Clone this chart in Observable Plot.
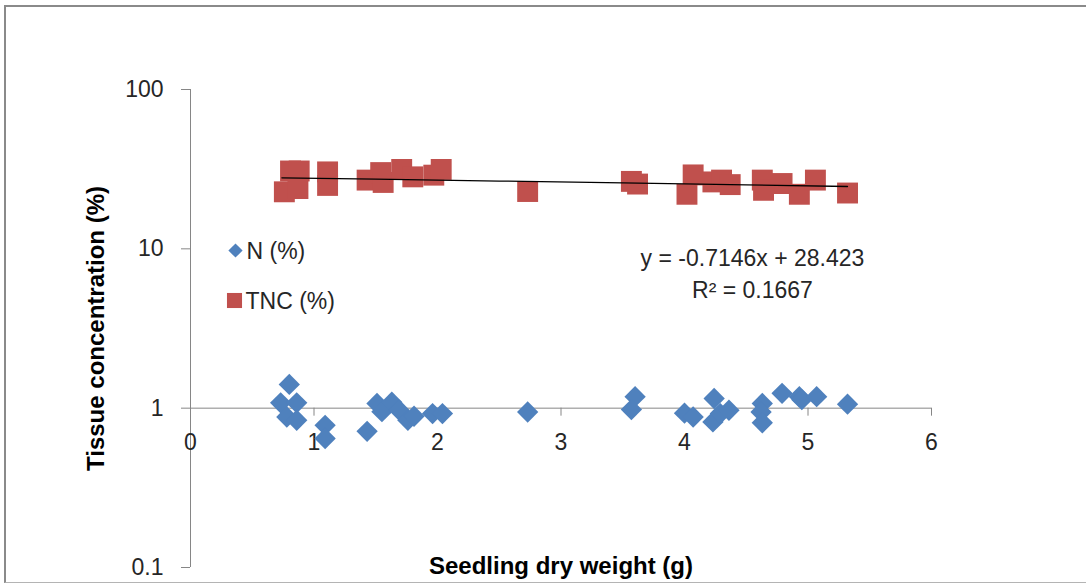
<!DOCTYPE html>
<html><head><meta charset="utf-8">
<script src="https://cdn.jsdelivr.net/npm/d3@7"></script>
<script src="https://cdn.jsdelivr.net/npm/@observablehq/plot@0.6"></script>
<style>
body{margin:0;background:#fff;}
#chart{position:relative;width:1086px;height:583px;overflow:hidden;background:#fff;}
#chart svg{position:absolute;left:0;top:0;display:block;}
#border{position:absolute;left:4px;top:5px;width:1200px;height:578px;border:2px solid #8a8a8a;border-bottom:1px solid #b4b4b4;box-sizing:border-box;pointer-events:none;z-index:2;}
</style></head><body><div id="chart"><div id="border"></div></div>
<script>
// TNC (%) series
const tncX = [0.81,0.88,0.76,0.87,1.11,1.11,1.43,1.54,1.56,1.71,1.80,1.97,2.03,2.73,3.57,3.62,4.02,4.07,4.23,4.30,4.37,4.63,4.64,4.79,4.93,5.06,5.32];
const tncY = [30.8,30.8,22.8,23.9,30.4,25.0,27.0,30.1,26.1,31.5,28.3,29.0,31.5,22.9,26.5,25.5,22.0,29.1,26.3,27.0,25.3,27.0,23.3,25.7,22.0,27.0,22.4];
// N (%) series
const nX = [0.80,0.73,0.86,0.78,0.86,1.09,1.09,1.43,1.51,1.55,1.63,1.69,1.76,1.81,1.96,2.04,2.73,3.60,3.57,4.00,4.07,4.24,4.23,4.29,4.36,4.63,4.62,4.63,4.79,4.93,4.95,5.07,5.32];
const nY = [1.41,1.08,1.08,0.88,0.84,0.78,0.645,0.716,1.07,0.95,1.09,0.97,0.84,0.89,0.925,0.925,0.946,1.18,0.98,0.93,0.88,1.15,0.82,0.925,0.97,1.07,0.946,0.81,1.24,1.18,1.13,1.18,1.06];
// axis ticks
const xTicks = [0,1,2,3,4,5,6];
const yTicks = [0.1,1,10,100];
// trend line (stated equation) and its x span
const trendSlope = -0.7146, trendIntercept = 28.423;
const trendXs = [0.74, 1.5, 2.5, 3.5, 4.5, 5.32];
const eqLabel = "y = -0.7146x + 28.423";
const r2Label = "R\u00B2 = 0.1667";
const seriesNames = ["N (%)", "TNC (%)"];
const xTitle = "Seedling dry weight (g)";
const yTitle = "Tissue concentration (%)";

const tnc = tncX.map((x,i)=>({x, y: tncY[i]}));
const nn = nX.map((x,i)=>({x, y: nY[i]}));
const trend = trendXs.map(x=>({x, y: trendSlope*x + trendIntercept}));

const blue = "#4F81BD", red = "#C0504D", axisGray = "#868686", txt = "#262626";
const font = "'Liberation Sans', Arial, sans-serif";

const chart = Plot.plot({
  width: 1086, height: 583,
  marginLeft: 190, marginRight: 155, marginTop: 89, marginBottom: 16,
  style: {fontFamily: font, background: "transparent"},
  x: {domain: [0, 6], axis: null},
  y: {type: "log", domain: [0.1, 100], axis: null},
  marks: [
    // y axis line and ticks
    Plot.ruleX([0], {y1: 0.1, y2: 100, stroke: axisGray, strokeWidth: 1}),
    Plot.ruleY(yTicks, {y: d=>d, x1: 0, x2: 0, insetLeft: -9, stroke: axisGray}),
    Plot.text(yTicks, {y: d=>d, x: 0, dx: -27, text: d=>String(d), textAnchor: "end", fontSize: 23, fill: txt}),
    // x axis at y = 1
    Plot.ruleY([1], {x1: 0, x2: 6, stroke: axisGray, strokeWidth: 1}),
    Plot.ruleX(xTicks.slice(1), {x: d=>d, y1: 1, y2: 1, insetBottom: -8, stroke: axisGray}),
    Plot.text(xTicks, {x: d=>d, y: 1, dy: 34, text: d=>String(d), fontSize: 23, fill: txt}),
    // data
    Plot.dot(tnc, {x: "x", y: "y", symbol: "square", r: 11.8, fill: red, stroke: "none"}),
    Plot.line(trend, {x: "x", y: "y", stroke: "#000", strokeWidth: 1.3}),
    Plot.dot(nn, {x: "x", y: "y", symbol: "diamond2", r: 9.6, fill: blue, stroke: "none"}),
    // legend
    Plot.dot([0], {frameAnchor: "top-left", dx: 45, dy: 161, symbol: "diamond2", r: 6.4, fill: blue, stroke: "none"}),
    Plot.text([seriesNames[0]], {frameAnchor: "top-left", dx: 56, dy: 162, text: d=>d, textAnchor: "start", lineAnchor: "middle", fontSize: 23, fill: txt}),
    Plot.dot([0], {frameAnchor: "top-left", dx: 44, dy: 211, symbol: "square", r: 8.5, fill: red, stroke: "none"}),
    Plot.text([seriesNames[1]], {frameAnchor: "top-left", dx: 55, dy: 212, text: d=>d, textAnchor: "start", lineAnchor: "middle", fontSize: 23, fill: txt}),
    // equation
    Plot.text([eqLabel], {frameAnchor: "top-left", dx: 562, dy: 169, text: d=>d, textAnchor: "middle", lineAnchor: "middle", fontSize: 23, fill: txt}),
    Plot.text([r2Label], {frameAnchor: "top-left", dx: 562, dy: 201, text: d=>d, textAnchor: "middle", lineAnchor: "middle", fontSize: 23, fill: txt}),
    // axis titles
    Plot.text([yTitle], {frameAnchor: "left", rotate: -90, dx: -94, dy: 0, text: d=>d, textAnchor: "middle", lineAnchor: "middle", fontWeight: "bold", fontSize: 24, fill: "#000"}),
    Plot.text([xTitle], {frameAnchor: "bottom", dy: -1, text: d=>d, textAnchor: "middle", lineAnchor: "middle", fontWeight: "bold", fontSize: 24, fill: "#000"})
  ]
});
document.getElementById("chart").prepend(chart);
</script>
</body></html>
